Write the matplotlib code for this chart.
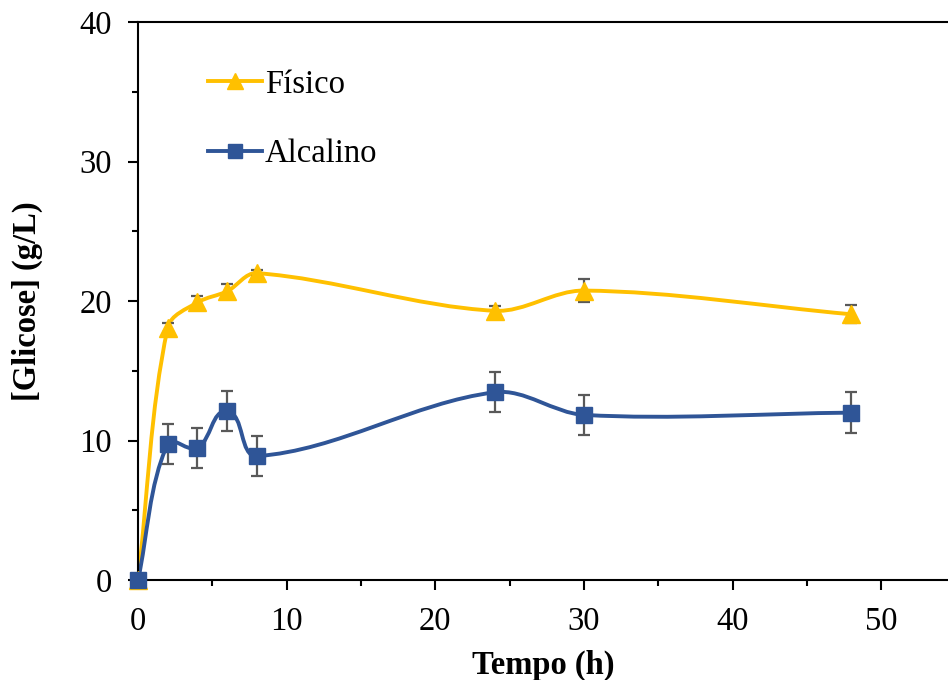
import numpy as np
import matplotlib.pyplot as plt
from matplotlib.path import Path
from matplotlib.patches import PathPatch
from matplotlib.lines import Line2D
from matplotlib.ticker import MultipleLocator

tempo = [0, 2, 4, 6, 8, 24, 30, 48]
fisico = [0, 18.1, 19.9, 20.7, 22.0, 19.3, 20.75, 19.05]
fisico_err = [0, 0.35, 0.45, 0.5, 0.2, 0.35, 0.8, 0.65]
alcalino = [0, 9.77, 9.45, 12.1, 8.88, 13.46, 11.84, 12.0]
alcalino_err = [0, 1.45, 1.45, 1.45, 1.45, 1.45, 1.45, 1.45]

amarelo = '#FFC000'
azul = '#2F5597'
cinza = '#595959'
fs = 23.5

plt.rcParams['font.family'] = ['Liberation Serif', 'DejaVu Serif']


def smooth_path(ax, x, y):
    # curva suavizada estilo Excel, calculada em pixels
    pts = ax.transData.transform(np.column_stack([x, y]))
    n = len(pts)
    verts = [pts[0]]
    for i in range(n - 1):
        p1, p2 = pts[i], pts[i + 1]
        p0 = pts[i - 1] if i > 0 else p1
        p3 = pts[i + 2] if i + 2 < n else p2
        seg = np.hypot(*(p2 - p1))
        t1 = p2 - p0
        t2 = p3 - p1
        c1 = p1 + t1 / np.hypot(*t1) * seg / 3
        c2 = p2 - t2 / np.hypot(*t2) * seg / 3
        verts += [c1, c2, p2]
    verts = ax.transData.inverted().transform(np.array(verts))
    codes = [Path.MOVETO] + [Path.CURVE4] * (3 * (n - 1))
    return Path(verts, codes)


fig = plt.figure(figsize=(9.48, 6.8), dpi=100)
ax = fig.add_axes([0.1456, 0.147, 0.8544, 0.8206])
ax.set_xlim(0, 54.5)
ax.set_ylim(0, 40)

for y, err, cor, mk, ms in [(fisico, fisico_err, amarelo, '^', 13),
                            (alcalino, alcalino_err, azul, 's', 12)]:
    ax.add_patch(PathPatch(smooth_path(ax, tempo, y), facecolor='none',
                           edgecolor=cor, lw=2.8, zorder=2))
    ax.errorbar(tempo, y, yerr=err, fmt='none', ecolor=cinza, elinewidth=1.6,
                capsize=4.5, capthick=1.6, zorder=3)
    ax.plot(tempo, y, linestyle='none', marker=mk, color=cor, markersize=ms,
            zorder=4, clip_on=False)

ax.xaxis.set_major_locator(MultipleLocator(10))
ax.xaxis.set_minor_locator(MultipleLocator(5))
ax.yaxis.set_major_locator(MultipleLocator(10))
ax.yaxis.set_minor_locator(MultipleLocator(5))
ax.tick_params(which='both', direction='out', width=1.5, labelsize=fs,
               color='black')
ax.tick_params(which='major', length=7, pad=12)
ax.tick_params(which='minor', length=4)
ax.spines['right'].set_visible(False)
for s in ['left', 'bottom', 'top']:
    ax.spines[s].set_linewidth(1.5)

ax.set_xlabel('Tempo (h)', fontsize=fs, fontweight='bold', labelpad=9)
ax.set_ylabel('[Glicose] (g/L)', fontsize=fs, fontweight='bold', labelpad=26)

handles = [Line2D([], [], color=amarelo, lw=2.8, marker='^', markersize=11),
           Line2D([], [], color=azul, lw=2.8, marker='s', markersize=10)]
ax.legend(handles, ['Físico', 'Alcalino'], loc='upper left',
          bbox_to_anchor=(0.05, 0.968), frameon=False, fontsize=fs,
          handlelength=1.65, handletextpad=0.1, labelspacing=1.2)

fig.savefig('out.png', dpi=100)
